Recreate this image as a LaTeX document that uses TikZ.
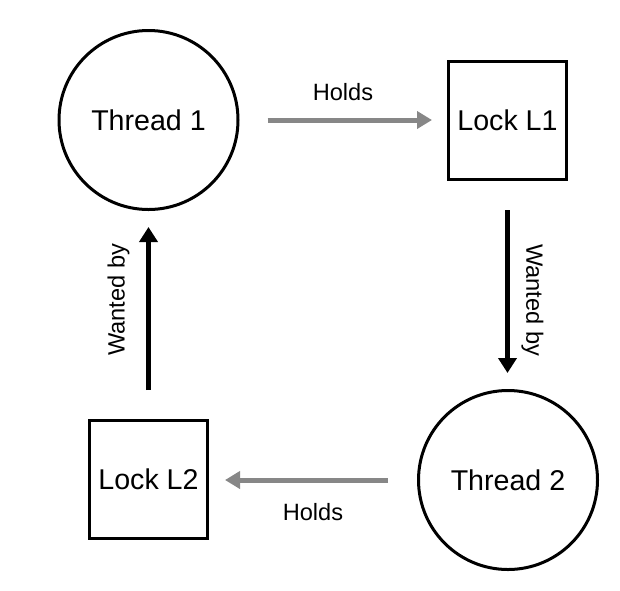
\documentclass[tikz,border=0pt]{standalone}
\usepackage{fontspec}
\setmainfont{Liberation Sans}
\usetikzlibrary{arrows.meta}
\begin{document}
\begin{tikzpicture}[x=0.5pt,y=-0.5pt,
  thread/.style={circle,draw=black,line width=1.5pt,minimum size=89.5pt,inner sep=0pt,font=\fontsize{14.3}{17}\selectfont},
  lockbox/.style={rectangle,draw=black,line width=1.5pt,minimum size=59pt,inner sep=0pt,font=\fontsize{14.3}{17}\selectfont},
  holds/.style={draw=black!47,line width=2.5pt,-{Triangle[length=7.5pt,width=8.5pt]}},
  wanted/.style={draw=black,line width=2.5pt,-{Triangle[length=7.5pt,width=9pt]}},
  lbl/.style={font=\fontsize{11.8}{14}\selectfont,inner sep=0pt}]
\useasboundingbox[fill=white] (0,0) rectangle (620,590);
\node[thread] (t1) at (148.5,120) {Thread 1};
\node[lockbox] (l1) at (507.5,120.5) {Lock L1};
\node[thread] (t2) at (508,480) {Thread 2};
\node[lockbox] (l2) at (148.5,479.5) {Lock L2};
\draw[holds,shorten <=14pt,shorten >=7.5pt] (t1.east) -- (t1.east -| l1.west);
\draw[holds,shorten <=14.5pt,shorten >=8pt] (t2.west) -- (t2.west -| l2.east);
\draw[wanted,shorten <=14.5pt,shorten >=8pt] (l1.south) -- (l1.south |- t2.north);
\draw[wanted,shorten <=14.5pt,shorten >=8pt] (l2.north) -- (l2.north |- t1.south);
\node[lbl] (h1) at (343,92) {Holds};
\node[lbl] (h2) at (313,512) {Holds};
\node[lbl,rotate=90] (w1) at (118.5,300) {Wanted by};
\node[lbl,rotate=-90] (w2) at (532.5,300) {Wanted by};
\end{tikzpicture}
\end{document}
